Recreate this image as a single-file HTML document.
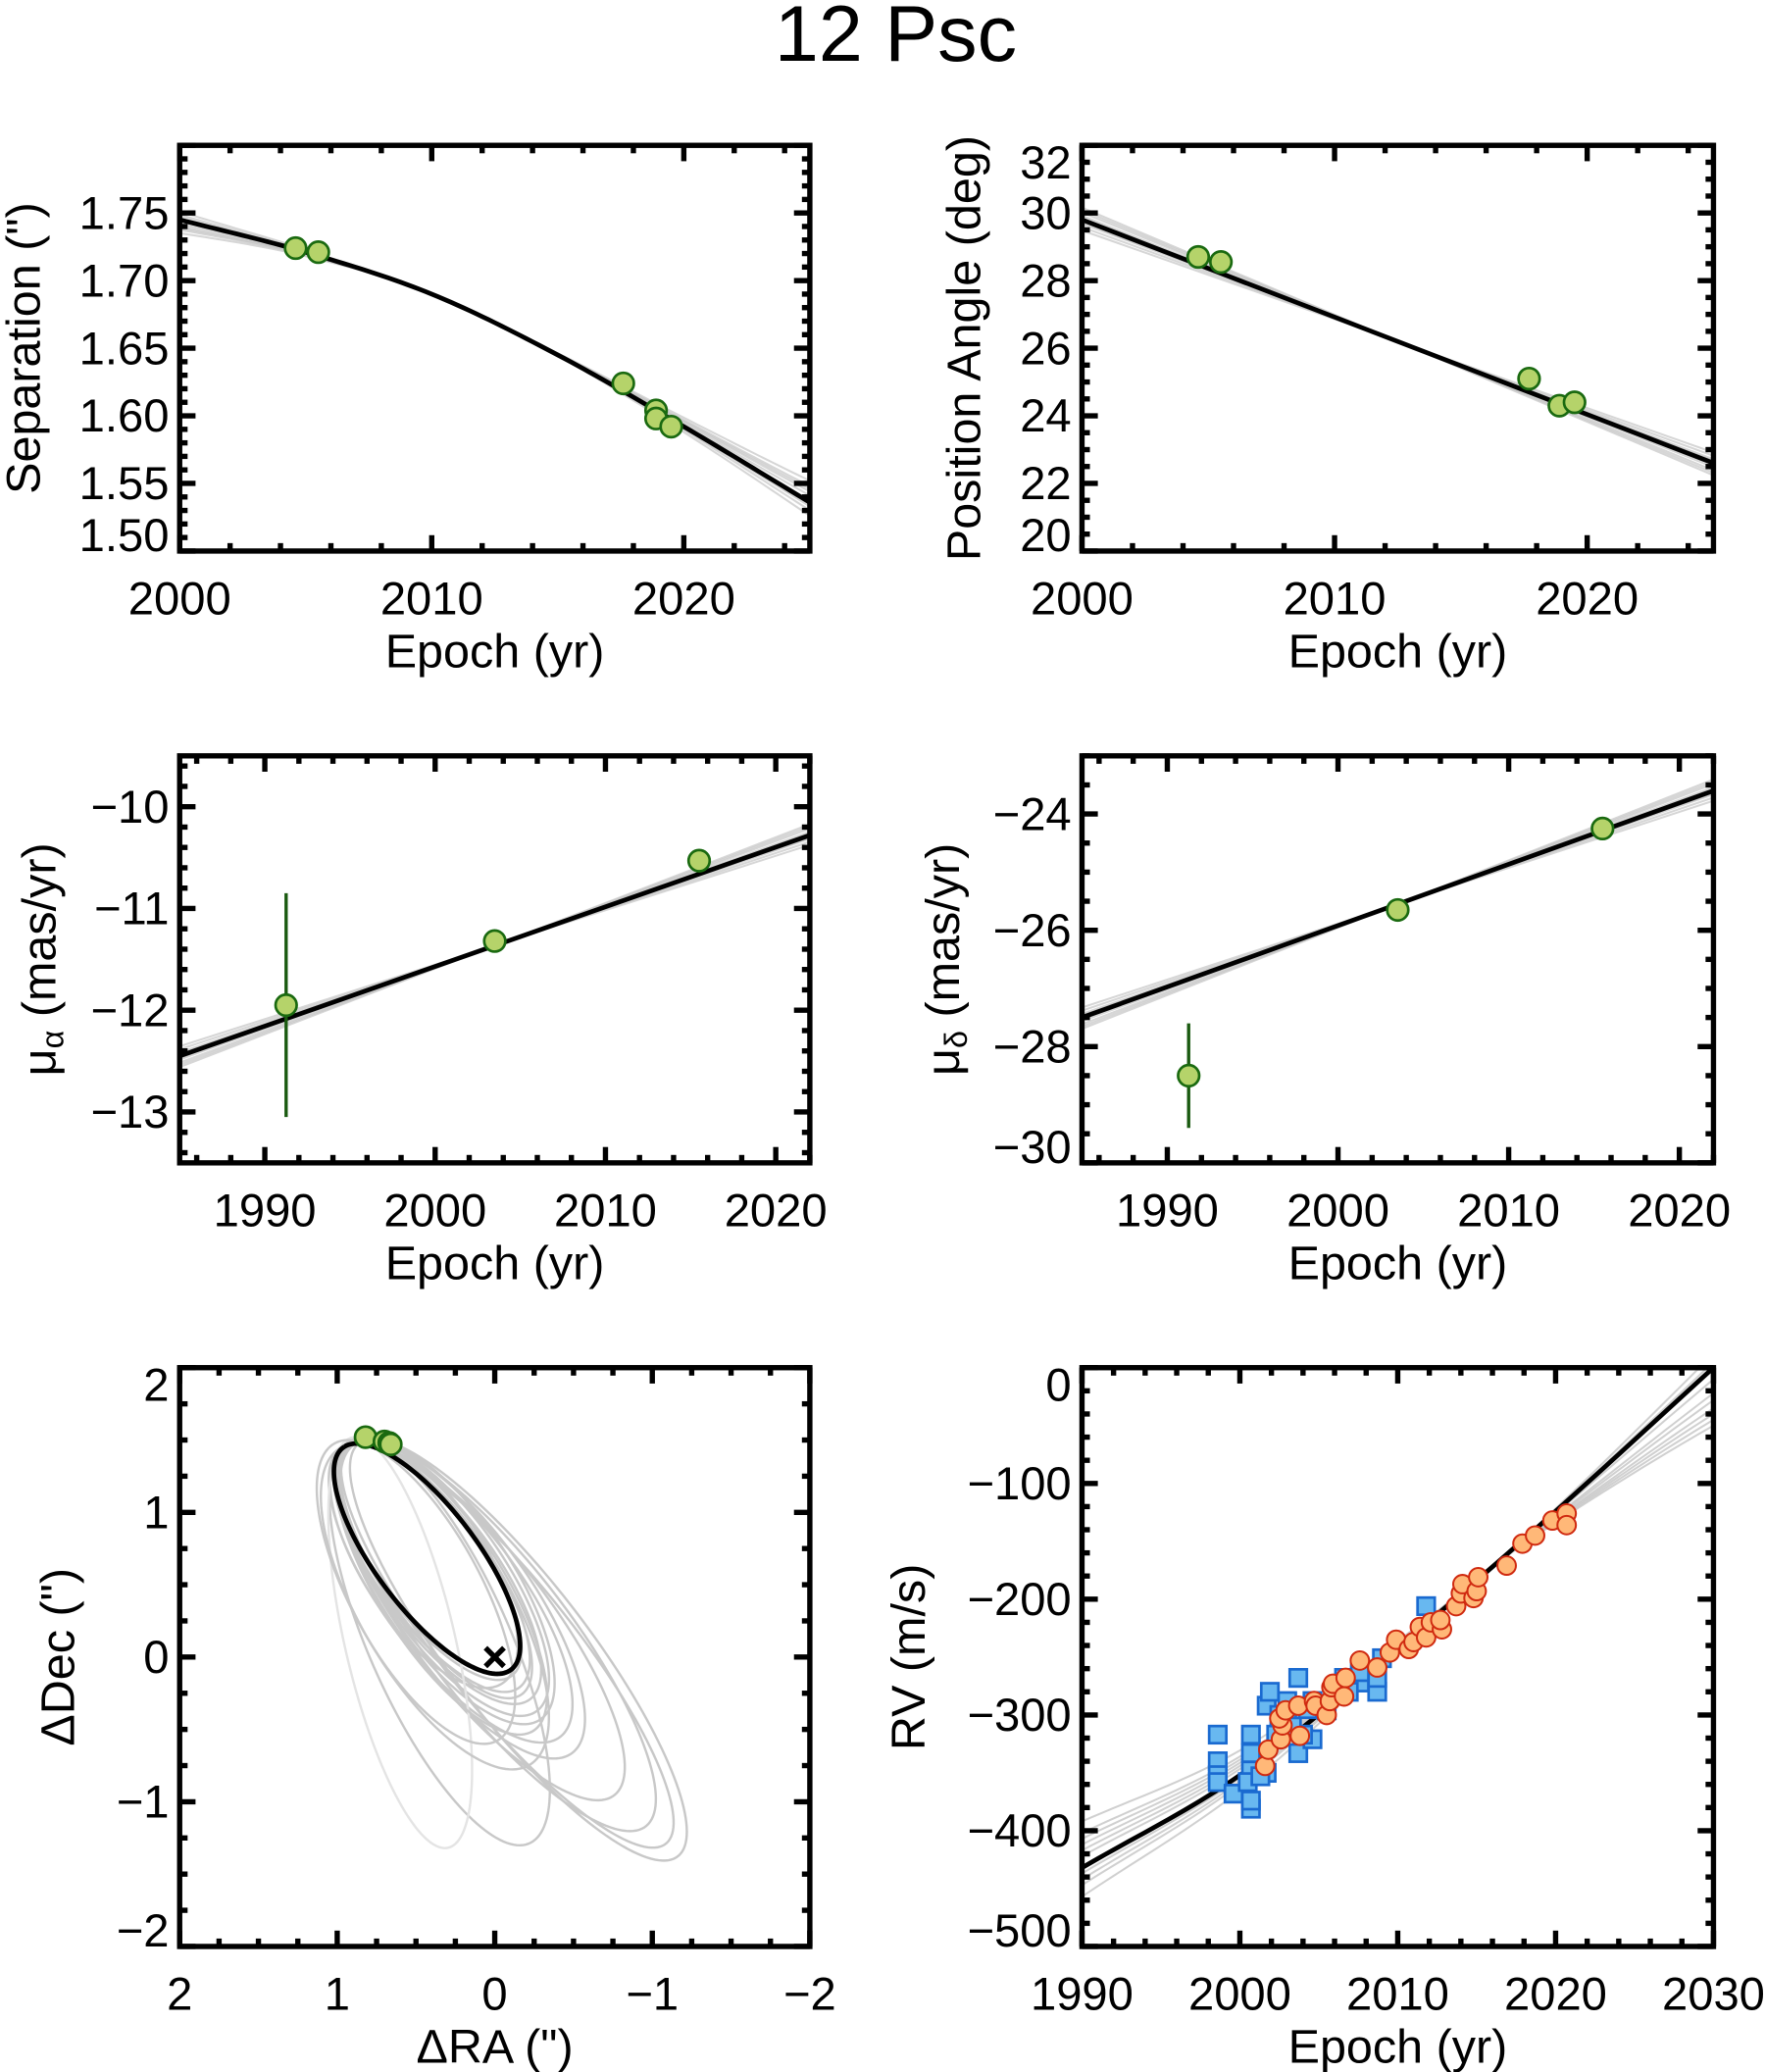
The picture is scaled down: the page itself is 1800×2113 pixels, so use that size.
<!DOCTYPE html>
<html><head><meta charset="utf-8"><title>12 Psc</title>
<style>
html,body{margin:0;padding:0;background:#fff;}
svg{display:block;}
text{font-family:"Liberation Sans",Arial,sans-serif;fill:#000;}
</style></head>
<body>
<svg id="fig" width="1800" height="2113" viewBox="0 0 1336 1568" preserveAspectRatio="none" xmlns="http://www.w3.org/2000/svg">
<text x="678" y="46" font-size="60" text-anchor="middle">12 Psc</text>
</svg>
<script>
// ---------- Data ----------
const sepYears = [2004.6, 2005.5, 2017.6, 2018.9, 2018.9, 2019.5];
const sepVals  = [1.724, 1.721, 1.624, 1.604, 1.598, 1.592];
const sepFitYears = [2000, 2005, 2010, 2015, 2020, 2025];
const sepFitVals  = [1.745, 1.721, 1.690, 1.645, 1.592, 1.536];
const sepGrayOffsets = [0.016, 0.010, 0.005, -0.006, -0.010, 0.008, -0.003, 0.012];

const paYears = [2004.6, 2005.5, 2017.7, 2018.9, 2019.5];
const paVals  = [28.7, 28.55, 25.1, 24.3, 24.4];
const paFitYears = [2000, 2025];
const paFitVals  = [29.8, 22.6];

const pmraYears = [1991.25, 2003.5, 2015.5];
const pmraVals  = [-11.95, -11.32, -10.53];
const pmraErr   = [1.1, 0.03, 0.03];
const pmraFitYears = [1985, 2022];
const pmraFitVals  = [-12.45, -10.28];

const pmdecYears = [1991.25, 2003.5, 2015.5];
const pmdecVals  = [-28.5, -25.65, -24.25];
const pmdecErr   = [0.9, 0.03, 0.03];
const pmdecFitYears = [1985, 2022];
const pmdecFitVals  = [-27.5, -23.6];

const lineGraySpread = [0.25, 0.15, 0.08, -0.08, -0.15, -0.22, 0.2, -0.05];

const orbRA  = [0.82, 0.70, 0.67, 0.66];
const orbDec = [1.52, 1.49, 1.48, 1.47];
// orbit ellipse params: centerRA, centerDec, semiMajor, semiMinor, angleDeg
const bestOrbit = [0.43, 0.68, 0.935, 0.33, 55.9];
const grayOrbits = [
 [0.42,0.66,0.95,0.34,57],[0.40,0.62,1.00,0.36,57],[0.38,0.60,1.02,0.35,58],[0.36,0.58,1.05,0.38,57],
 [0.33,0.55,1.10,0.40,58],[0.30,0.52,1.12,0.42,59],[0.45,0.65,0.97,0.40,60],[0.28,0.45,1.22,0.44,56],
 [0.22,0.40,1.28,0.45,57],[0.10,0.25,1.48,0.45,55],[-0.02,0.15,1.62,0.46,55],
 [-0.15,0.05,1.75,0.45,55],[-0.08,0.08,1.70,0.42,54],[0.35,0.10,1.50,0.45,68],
 [0.60,0.10,1.45,0.35,78],[0.50,0.45,1.15,0.42,64],[0.38,0.35,1.25,0.48,62],[0.34,0.48,1.15,0.40,60]
];

const rvBlueYears = [1998.6,1998.6,1998.6,1998.6,1999.6,2000.7,2000.7,2000.7,2000.7,2000.7,2001.7,2001.7,2001.9,2002.3,2003.7,2003.7,2004.6,2004.6,2005.5,2006.6,2007.6,2007.6,2008.7,2009.0,2011.8,2000.5,2001.3,2003.0,2003.0,2004.0,2006.9,2008.7,2002.5,2003.3,2004.3];
const rvBlueVals  = [-317,-340,-352,-358,-368,-381,-374,-348,-333,-317,-350,-292,-280,-317,-333,-268,-288,-321,-296,-268,-272,-263,-280,-251,-206,-358,-353,-305,-288,-317,-280,-268,-300,-310,-295];
const rvOrYears = [2001.6,2001.8,2002.6,2002.7,2002.5,2002.9,2003.7,2003.8,2004.7,2004.8,2005.5,2005.7,2005.8,2005.9,2006.6,2006.7,2007.6,2008.7,2009.5,2009.9,2010.7,2011.0,2011.4,2011.8,2012.1,2012.8,2012.7,2013.7,2014.0,2014.1,2014.8,2015.0,2015.1,2016.9,2017.9,2018.7,2019.8,2020.7,2020.7];
const rvOrVals  = [-344,-330,-321,-309,-303,-296,-292,-318,-288,-292,-300,-288,-276,-273,-284,-268,-253,-259,-246,-235,-243,-237,-224,-233,-220,-226,-218,-206,-195,-187,-199,-193,-181,-171,-152,-145,-132,-126,-136];
const rvFitYears = [1990, 2000, 2010, 2020, 2030];
const rvFitVals  = [-432, -352, -242, -124, 0];
const rvGrayOff1990 = [40, 30, 20, 10, -5, -15, -25, 15, 25, -10];
const rvGrayOff2030 = [-50, -35, -22, -10, 5, 12, -45, -28, -40, 2];
const rvPivotYear = 2016;

// ---------- helpers ----------
const NS = "http://www.w3.org/2000/svg";
const svg = document.getElementById('fig');
function mk(tag, attrs, parent){const e=document.createElementNS(NS,tag);for(const k in attrs)e.setAttribute(k,attrs[k]);(parent||svg).appendChild(e);return e;}
function scale(d0,d1,p0,p1){return v=>p0+(v-d0)*(p1-p0)/(d1-d0);}
function smooth(xs,ys,x){
  const n=xs.length; let i=0;
  while(i<n-2 && x>xs[i+1]) i++;
  const t=(x-xs[i])/(xs[i+1]-xs[i]);
  const p0=i>0?ys[i-1]:2*ys[i]-ys[i+1], p1=ys[i], p2=ys[i+1], p3=i+2<n?ys[i+2]:2*ys[i+1]-ys[i];
  return 0.5*((2*p1)+(-p0+p2)*t+(2*p0-5*p1+4*p2-p3)*t*t+(-p0+3*p1-3*p2+p3)*t*t*t);
}

function frame(P){
  const g = mk('g',{});
  
  
  const sx = scale(P.xd[0],P.xd[1],P.x0,P.x1), sy = scale(P.yd[0],P.yd[1],P.y1,P.y0);
  const clip = mk('clipPath',{id:P.name+'-clip'},g);
  mk('rect',{x:P.x0,y:P.y0,width:P.x1-P.x0,height:P.y1-P.y0},clip);
  const plot = mk('g',{'clip-path':'url(#'+P.name+'-clip)'},g);
  
  
  return {g,plot,sx,sy};
}
function axes(P,F){
  const g=F.g;
  const lo=Math.min(P.xd[0],P.xd[1]), hi=Math.max(P.xd[0],P.xd[1]);
  const eps=1e-6;
  for(let v=Math.ceil(lo/P.xmin-eps)*P.xmin; v<=hi+eps; v+=P.xmin){
    const x=F.sx(v); const maj=Math.abs(v/P.xmaj-Math.round(v/P.xmaj))<1e-4; const L=maj?12:6;
    mk('line',{x1:x,x2:x,y1:P.y1,y2:P.y1-L,stroke:'#000','stroke-width':4},g);
    mk('line',{x1:x,x2:x,y1:P.y0,y2:P.y0+L,stroke:'#000','stroke-width':4},g);
  }
  for(let v=Math.ceil(P.yd[0]/P.ymin-eps)*P.ymin; v<=P.yd[1]+eps; v+=P.ymin){
    const y=F.sy(v); const maj=Math.abs(v/P.ymaj-Math.round(v/P.ymaj))<1e-4; const L=maj?12:6;
    mk('line',{x1:P.x0,x2:P.x0+L,y1:y,y2:y,stroke:'#000','stroke-width':4},g);
    mk('line',{x1:P.x1,x2:P.x1-L,y1:y,y2:y,stroke:'#000','stroke-width':4},g);
  }
  const fr=mk('rect',{x:P.x0,y:P.y0,width:P.x1-P.x0,height:P.y1-P.y0,fill:'none',stroke:'#000','stroke-width':4},g);
  
  
  P.xticks.forEach(v=>{
    const t=mk('text',{x:F.sx(v),y:P.y1+48,'font-size':35,'text-anchor':'middle'},g);
    t.textContent=P.xfmt(v);
    
    
  });
  P.yticks.forEach(v=>{
    let y=F.sy(v)+12; y=Math.min(y,P.y1-0); y=Math.max(y,P.y0+25);
    const t=mk('text',{x:P.x0-8,y:y,'font-size':35,'text-anchor':'end'},g);
    t.textContent=P.yfmt(v);
    
    
  });
  const xl=mk('text',{x:(P.x0+P.x1)/2,y:P.y1+88,'font-size':36,'text-anchor':'middle'},g);
  xl.textContent=P.xlabel;
  
  
  const yc=(P.y0+P.y1)/2;
  const yl=mk('text',{x:P.ylx,y:yc,'font-size':36,'text-anchor':'middle',transform:'rotate(-90 '+P.ylx+' '+yc+')'},g);
  yl.innerHTML=P.ylabel;
  
  
}
const minus = v => (v<0?'\u2212':'')+Math.abs(v);
function polyline(parent,F,xs,ys,st){return mk('polyline',Object.assign({points:xs.map((x,i)=>F.sx(x)+','+F.sy(ys[i])).join(' '),fill:'none'},st),parent);}
function greenPt(parent,x,y){return mk('circle',{cx:x,cy:y,r:8,fill:'#b5d36a',stroke:'#1a6a10','stroke-width':2},parent);}
function linearGrays(F,P,fx,fv,name){
  const pv=(fv[0]+fv[1])/2;
  lineGraySpread.forEach(s=>{
    const span=(fv[1]-fv[0]);
    const a=pv-(span/2)*(1+s*0.4), b=pv+(span/2)*(1+s*0.4);
    const l=polyline(F.plot,F,[fx[0],fx[1]],[a,b],{stroke:'#c4c4c4','stroke-width':1.5,'stroke-opacity':0.7});
    
    
  });
}

// ---------- Panel 1: Separation ----------
(function(){
  const P={name:'separation',x0:136,x1:613,y0:110,y1:417,xd:[2000,2025],yd:[1.50,1.80],xmaj:10,xmin:2,ymaj:0.05,ymin:0.01,
    xticks:[2000,2010,2020],yticks:[1.50,1.55,1.60,1.65,1.70,1.75],xfmt:v=>v,yfmt:v=>v.toFixed(2),xlabel:'Epoch (yr)',ylabel:'Separation (")',ylx:30};
  const F=frame(P);
  const xs=[];for(let y=2000;y<=2025;y+=0.25)xs.push(y);
  sepGrayOffsets.forEach(o=>{
    const ys=xs.map(x=>{const u=(x-2011)/14; return smooth(sepFitYears,sepFitVals,x)+o*u*Math.abs(u);});
    const l=polyline(F.plot,F,xs,ys,{stroke:'#c4c4c4','stroke-width':1.5,'stroke-opacity':0.7});
    
    
  });
  const best=polyline(F.plot,F,xs,xs.map(x=>smooth(sepFitYears,sepFitVals,x)),{stroke:'#000','stroke-width':3.5});
  
  
  sepYears.forEach((y,i)=>{const c=greenPt(F.plot,F.sx(y),F.sy(sepVals[i]));
    
    });
  axes(P,F);
})();

// ---------- Panel 2: Position angle ----------
(function(){
  const P={name:'position-angle',x0:819,x1:1297,y0:110,y1:417,xd:[2000,2025],yd:[20,32],xmaj:10,xmin:2,ymaj:2,ymin:0.5,
    xticks:[2000,2010,2020],yticks:[20,22,24,26,28,30,32],xfmt:v=>v,yfmt:v=>v,xlabel:'Epoch (yr)',ylabel:'Position Angle (deg)',ylx:742};
  const F=frame(P);
  linearGrays(F,P,paFitYears,paFitVals,'position-angle');
  const b=polyline(F.plot,F,paFitYears,paFitVals,{stroke:'#000','stroke-width':3.5});
  
  
  paYears.forEach((y,i)=>{const c=greenPt(F.plot,F.sx(y),F.sy(paVals[i]));
    
    });
  axes(P,F);
})();

// ---------- Panel 3/4: proper motions ----------
function pmPanel(P,fx,fv,xs,vs,es){
  const F=frame(P);
  linearGrays(F,P,fx,fv,P.name);
  const b=polyline(F.plot,F,fx,fv,{stroke:'#000','stroke-width':3.5});
  
  
  xs.forEach((x,i)=>{
    const e=mk('line',{x1:F.sx(x),x2:F.sx(x),y1:F.sy(vs[i]-es[i]),y2:F.sy(vs[i]+es[i]),stroke:'#1a5a10','stroke-width':2.5},F.plot);
    
    
    const c=greenPt(F.plot,F.sx(x),F.sy(vs[i]));
    
    
  });
  axes(P,F);
}
pmPanel({name:'pm-ra',x0:136,x1:613,y0:572,y1:880,xd:[1985,2022],yd:[-13.5,-9.5],xmaj:10,xmin:2,ymaj:1,ymin:0.2,
  xticks:[1990,2000,2010,2020],yticks:[-13,-12,-11,-10],xfmt:v=>v,yfmt:minus,xlabel:'Epoch (yr)',
  ylabel:'\u03bc<tspan font-size="24" dy="6">\u03b1</tspan><tspan dy="-6"> (mas/yr)</tspan>',ylx:42},pmraFitYears,pmraFitVals,pmraYears,pmraVals,pmraErr);
pmPanel({name:'pm-dec',x0:819,x1:1297,y0:572,y1:880,xd:[1985,2022],yd:[-30,-23],xmaj:10,xmin:2,ymaj:2,ymin:0.5,
  xticks:[1990,2000,2010,2020],yticks:[-30,-28,-26,-24],xfmt:v=>v,yfmt:minus,xlabel:'Epoch (yr)',
  ylabel:'\u03bc<tspan font-size="24" dy="6">\u03b4</tspan><tspan dy="-6"> (mas/yr)</tspan>',ylx:726},pmdecFitYears,pmdecFitVals,pmdecYears,pmdecVals,pmdecErr);

// ---------- Panel 5: orbit ----------
(function(){
  const P={name:'orbit',x0:136,x1:613,y0:1035,y1:1473,xd:[2,-2],yd:[-2,2],xmaj:1,xmin:0.25,ymaj:1,ymin:0.25,
    xticks:[2,1,0,-1,-2],yticks:[-2,-1,0,1,2],xfmt:minus,yfmt:minus,xlabel:'\u0394RA (")',ylabel:'\u0394Dec (")',ylx:56};
  const F=frame(P);
  function ell(p){const [cx,cy,a,b,ang]=p, t0=ang*Math.PI/180; const ra=[],de=[];
    for(let i=0;i<=160;i++){const t=i/160*2*Math.PI; ra.push(cx+a*Math.cos(t)*Math.cos(t0)-b*Math.sin(t)*Math.sin(t0)); de.push(cy+a*Math.cos(t)*Math.sin(t0)+b*Math.sin(t)*Math.cos(t0));}
    return [ra,de];}
  grayOrbits.forEach((p,i)=>{const [ra,de]=ell(p);
    const l=polyline(F.plot,F,ra,de,{stroke:i===14?'#e4e4e4':'#c8c8c8','stroke-width':1.8});
    
    });
  const [bra,bde]=ell(bestOrbit);
  const b=polyline(F.plot,F,bra,bde,{stroke:'#000','stroke-width':3.5});
  
  
  const sx0=F.sx(0), sy0=F.sy(0);
  const star=mk('path',{d:`M${sx0-7},${sy0-7}L${sx0+7},${sy0+7}M${sx0+7},${sy0-7}L${sx0-7},${sy0+7}`,stroke:'#000','stroke-width':4},F.plot);
  
  
  orbRA.forEach((r,i)=>{const c=greenPt(F.plot,F.sx(r),F.sy(orbDec[i]));
    
    });
  axes(P,F);
})();

// ---------- Panel 6: RV ----------
(function(){
  const P={name:'rv',x0:819,x1:1297,y0:1035,y1:1473,xd:[1990,2030],yd:[-500,0],xmaj:10,xmin:2,ymaj:100,ymin:20,
    xticks:[1990,2000,2010,2020,2030],yticks:[-500,-400,-300,-200,-100,0],xfmt:v=>v,yfmt:minus,xlabel:'Epoch (yr)',ylabel:'RV (m/s)',ylx:700};
  const F=frame(P);
  const xs=[];for(let y=1990;y<=2030;y+=0.5)xs.push(y);
  rvGrayOff1990.forEach((o1,i)=>{
    const o2=rvGrayOff2030[i];
    const ys=xs.map(x=>{const off = x<rvPivotYear ? o1*Math.pow((rvPivotYear-x)/(rvPivotYear-1990),1.3) : o2*Math.pow((x-rvPivotYear)/(2030-rvPivotYear),1.3); return smooth(rvFitYears,rvFitVals,x)+off;});
    const l=polyline(F.plot,F,xs,ys,{stroke:'#c4c4c4','stroke-width':1.5,'stroke-opacity':0.8});
    
    
  });
  const b=polyline(F.plot,F,xs,xs.map(x=>smooth(rvFitYears,rvFitVals,x)),{stroke:'#000','stroke-width':3.5});
  
  
  rvBlueYears.forEach((y,i)=>{const s=mk('rect',{x:F.sx(y)-6.5,y:F.sy(rvBlueVals[i])-6.5,width:13,height:13,fill:'#68b8f0',stroke:'#1a6ad0','stroke-width':2},F.plot);
    
    });
  rvOrYears.forEach((y,i)=>{const c=mk('circle',{cx:F.sx(y),cy:F.sy(rvOrVals[i]),r:7,fill:'#ffb878',stroke:'#d02a10','stroke-width':1.5},F.plot);
    
    });
  axes(P,F);
})();
</script>
</body></html>
